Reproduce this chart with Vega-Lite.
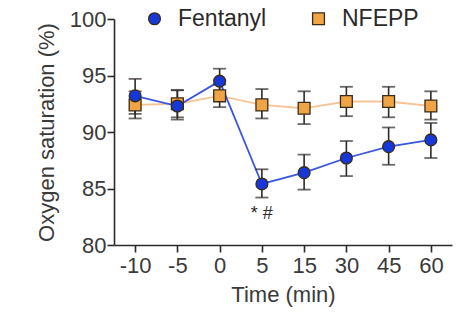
{
  "$schema": "https://vega.github.io/schema/vega-lite/v6.json",
  "width": 338,
  "height": 226,
  "autosize": "none",
  "padding": {"left": 114, "top": 19, "right": 10, "bottom": 80},
  "background": "white",
  "config": {
    "view": {"stroke": null},
    "font": "Liberation Sans",
    "axis": {
      "grid": false,
      "domainColor": "#2a2a2a",
      "domainWidth": 1.6,
      "tickColor": "#2a2a2a",
      "tickWidth": 1.6,
      "tickSize": 7,
      "labelColor": "#3a3a3a",
      "labelFontSize": 22,
      "titleColor": "#3a3a3a",
      "titleFontSize": 22,
      "titleFontWeight": "normal"
    }
  },
  "data": {
    "values": [
      {"t": "-10", "series": "NFEPP", "mean": 92.4, "lo": 91.2, "hi": 93.6},
      {"t": "-5", "series": "NFEPP", "mean": 92.5, "lo": 91.3, "hi": 93.7},
      {"t": "0", "series": "NFEPP", "mean": 93.2, "lo": 92.2, "hi": 94.2},
      {"t": "5", "series": "NFEPP", "mean": 92.4, "lo": 91.2, "hi": 93.8},
      {"t": "15", "series": "NFEPP", "mean": 92.1, "lo": 90.7, "hi": 93.6},
      {"t": "30", "series": "NFEPP", "mean": 92.7, "lo": 91.4, "hi": 94.0},
      {"t": "45", "series": "NFEPP", "mean": 92.7, "lo": 91.3, "hi": 94.0},
      {"t": "60", "series": "NFEPP", "mean": 92.3, "lo": 91.1, "hi": 93.6},
      {"t": "-10", "series": "Fentanyl", "mean": 93.2, "lo": 91.6, "hi": 94.7},
      {"t": "-5", "series": "Fentanyl", "mean": 92.3, "lo": 91.1, "hi": 93.7},
      {"t": "0", "series": "Fentanyl", "mean": 94.5, "lo": 93.3, "hi": 95.6},
      {"t": "5", "series": "Fentanyl", "mean": 85.4, "lo": 84.2, "hi": 86.7},
      {"t": "15", "series": "Fentanyl", "mean": 86.4, "lo": 84.9, "hi": 88.0},
      {"t": "30", "series": "Fentanyl", "mean": 87.7, "lo": 86.1, "hi": 89.2},
      {"t": "45", "series": "Fentanyl", "mean": 88.7, "lo": 87.1, "hi": 90.4},
      {"t": "60", "series": "Fentanyl", "mean": 89.3, "lo": 87.7, "hi": 90.8}
    ]
  },
  "encoding": {
    "x": {
      "field": "t",
      "type": "ordinal",
      "sort": ["-10", "-5", "0", "5", "15", "30", "45", "60"],
      "scale": {"type": "point", "padding": 0.5},
      "axis": {"title": "Time (min)", "labelAngle": 0, "labelPadding": 3, "titlePadding": 8}
    }
  },
  "layer": [
    {
      "transform": [{"filter": "datum.series == 'NFEPP'"}],
      "mark": {"type": "line", "strokeWidth": 1.8, "color": "#f7c595"},
      "encoding": {
        "y": {
          "field": "mean",
          "type": "quantitative",
          "scale": {"domain": [80, 100]},
          "axis": {"title": "Oxygen saturation (%)", "values": [80, 85, 90, 95, 100], "labelPadding": 1, "titlePadding": 11}
        }
      }
    },
    {
      "transform": [{"filter": "datum.series == 'Fentanyl'"}],
      "mark": {"type": "line", "strokeWidth": 1.8, "color": "#3a56e0"},
      "encoding": {
        "y": {"field": "mean", "type": "quantitative"}
      }
    },
    {
      "mark": {"type": "rule", "color": "#2e2a26", "strokeWidth": 1.6},
      "encoding": {
        "y": {"field": "lo", "type": "quantitative"},
        "y2": {"field": "hi"}
      }
    },
    {
      "mark": {"type": "tick", "color": "#2e2a26", "size": 13, "thickness": 1.8},
      "encoding": {"y": {"field": "lo", "type": "quantitative"}}
    },
    {
      "mark": {"type": "tick", "color": "#2e2a26", "size": 13, "thickness": 1.8},
      "encoding": {"y": {"field": "hi", "type": "quantitative"}}
    },
    {
      "mark": {"type": "point", "filled": true, "strokeWidth": 1.3, "stroke": "#3a2a18", "opacity": 1, "size": 140},
      "encoding": {
        "y": {"field": "mean", "type": "quantitative"},
        "color": {
          "field": "series",
          "type": "nominal",
          "scale": {"domain": ["Fentanyl", "NFEPP"], "range": ["#1638d8", "#f0a545"]},
          "legend": {
            "title": null,
            "orient": "none",
            "direction": "horizontal",
            "legendX": 29,
            "legendY": -12,
            "labelFontSize": 23,
            "labelColor": "#2a2a2a",
            "symbolSize": 140,
            "symbolStrokeColor": "#3a2a18",
            "symbolStrokeWidth": 1.3,
            "columnPadding": 40,
            "labelOffset": 12
          }
        },
        "shape": {
          "field": "series",
          "type": "nominal",
          "scale": {"domain": ["Fentanyl", "NFEPP"], "range": ["circle", "square"]},
          "legend": {
            "title": null,
            "orient": "none",
            "direction": "horizontal",
            "legendX": 29,
            "legendY": -12,
            "labelFontSize": 23,
            "labelColor": "#2a2a2a",
            "symbolSize": 140,
            "columnPadding": 40,
            "labelOffset": 12
          }
        },
        "order": {"field": "series", "sort": "descending"}
      }
    },
    {
      "transform": [{"filter": "datum.series == 'Fentanyl' && datum.t == '5'"}],
      "mark": {"type": "text", "text": "* #", "fontSize": 18, "color": "#2a2a2a", "baseline": "middle", "dy": 30},
      "encoding": {"y": {"field": "mean", "type": "quantitative"}}
    }
  ]
}
